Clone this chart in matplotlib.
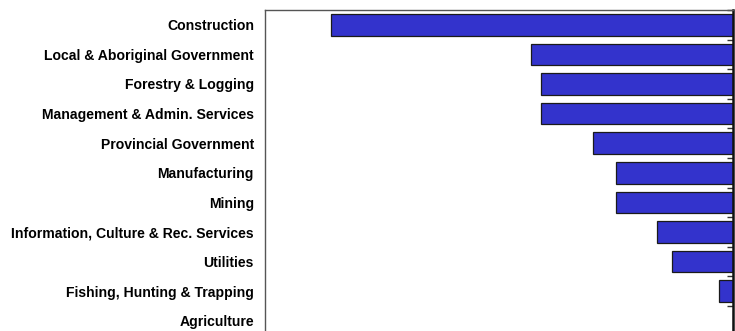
import matplotlib
matplotlib.use("Agg")
import matplotlib.pyplot as plt
import numpy as np
from matplotlib.ticker import FixedLocator

# Industries, top to bottom
industries = [
    "Construction",
    "Local & Aboriginal Government",
    "Forestry & Logging",
    "Management & Admin. Services",
    "Provincial Government",
    "Manufacturing",
    "Mining",
    "Information, Culture & Rec. Services",
    "Utilities",
    "Fishing, Hunting & Trapping",
    "Agriculture",
]
# Change (persons), all losses
change = [-4020, -2020, -1920, -1920, -1400, -1170, -1170, -760, -610, -140, 0]

X_MIN = -4680

plt.rcParams["font.family"] = ["Liberation Sans", "DejaVu Sans"]

fig = plt.figure(figsize=(7.35, 3.31), dpi=100)
ax = fig.add_axes([265 / 735, 1 - 335.6 / 331, 468 / 735, 325.6 / 331])

y = np.arange(len(industries))
ax.barh(y, change, height=0.73, color="#3333cc", edgecolor="#1a1a1a", linewidth=0.9, zorder=2)

ax.set_xlim(X_MIN, 0)
ax.set_ylim(len(industries) - 0.5, -0.5)

ax.set_yticks(y)
ax.set_yticklabels(industries, fontsize=10.05, fontweight="bold")
ax.tick_params(axis="y", which="major", length=0, pad=8)
ax.yaxis.set_minor_locator(FixedLocator(np.arange(-0.5, len(industries), 1.0)))
ax.tick_params(axis="y", which="minor", left=False, right=True, direction="in", length=4, width=1, color="#333333")
ax.set_xticks([])

for side in ("left", "top"):
    ax.spines[side].set_color("#555555")
    ax.spines[side].set_linewidth(1.0)
ax.spines["right"].set_color("#111111")
ax.spines["right"].set_linewidth(1.8)
ax.spines["bottom"].set_visible(False)

fig.savefig("out.png", dpi=100)
